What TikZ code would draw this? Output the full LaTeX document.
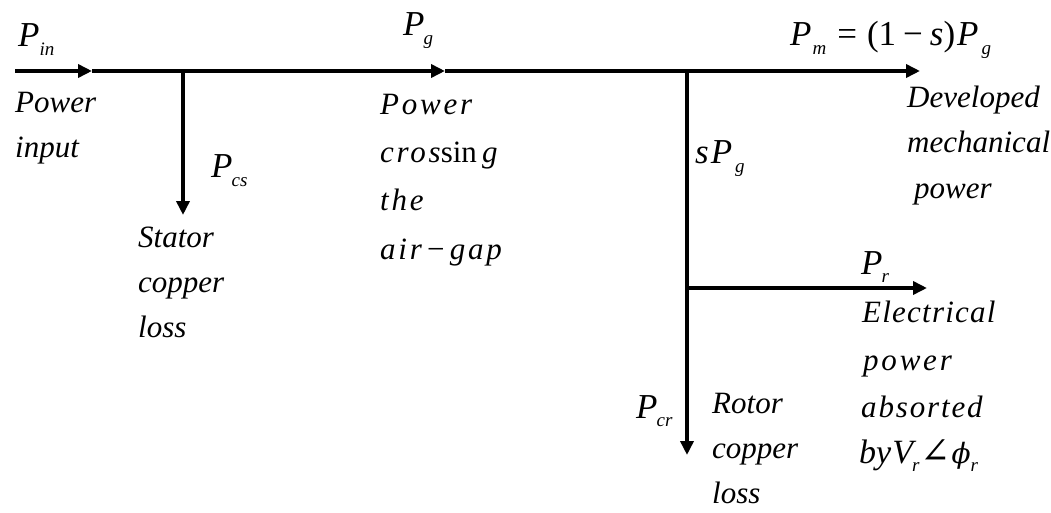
\documentclass[tikz,border=0pt]{standalone}
\usepackage{fontspec}
\setmainfont{Liberation Serif}
\newfontfamily\spc[LetterSpace=9]{Liberation Serif}
\newfontfamily\dvs{DejaVu Serif}
\usetikzlibrary{arrows.meta}
\newcommand\sbs[1]{\raisebox{-8.5pt}{\fontsize{19}{19}\selectfont\itshape #1}}
\newcommand\Pq[2][-1pt]{{\fontsize{35}{35}\selectfont P}\kern#1\sbs{#2}}
\tikzset{
  lbl/.style={anchor=base west,inner sep=0pt,font=\fontsize{31}{31}\selectfont\itshape},
  mlbl/.style={anchor=base west,inner sep=0pt,font=\fontsize{35}{35}\selectfont\itshape},
  slbl/.style={lbl,font=\fontsize{31}{31}\selectfont\spc\itshape},
  flow/.style={line width=3.5pt,-{Triangle[length=14pt,width=13pt]}}
}
\begin{document}
\begin{tikzpicture}[x=1pt,y=-1pt]
\useasboundingbox (0,0) rectangle (1051,513);
% coordinates
\coordinate (s0) at (15,71);
\coordinate (a1) at (92,71);
\coordinate (j1) at (183,71);
\coordinate (a2) at (445,71);
\coordinate (j2) at (687,71);
\coordinate (e0) at (920,71);
\coordinate (t1) at (183,215);
\coordinate (j3) at (687,288);
\coordinate (t3) at (927,288);
\coordinate (t2) at (687,455);
% connectors
\draw[flow] (s0) -- (a1);
\draw[flow] (a1) -- (a2);
\draw[flow] (a2) -- (e0);
\draw[flow] (j1) -- (t1);
\draw[flow] (j2) -- (t2);
\draw[flow] (j3) -- (t3);
% labels
\node[mlbl] (pin) at (18,47) {\Pq[0pt]{in}};
\node[lbl] (l1a) at (15,113) {Power};
\node[lbl] (l1b) at (15,158) {input};
\node[mlbl] (pcs) at (211,178) {\Pq{cs}};
\node[lbl] (l2a) at (138,247) {Stator};
\node[lbl] (l2b) at (138,292) {copper};
\node[lbl] (l2c) at (138,337) {loss};
\node[mlbl] (pg) at (403,36) {\Pq{g}};
\node[slbl] (l3a) at (380,115) {Power};
\node[slbl] (l3b) at (380,163) {cros{\rmfamily\upshape sin}\,g};
\node[slbl] (l3c) at (380,211) {the};
\node[slbl] (l3d) at (380,259) {air{\rmfamily\upshape\,−\,}gap};
\node[mlbl] (pm) at (790,46) {\Pq[1pt]{m}\kern11pt{\upshape=\kern10pt(1\kern7pt−\kern7pt}s{\upshape)}\kern2pt\Pq[3pt]{g}};
\node[mlbl] (spg) at (695,164) {s\kern2pt\Pq[3pt]{g}};
\node[lbl] (l4a) at (907,108) {Developed};
\node[lbl] (l4b) at (907,153) {mechanical};
\node[lbl] (l4c) at (914,198) {power};
\node[mlbl] (pr) at (861,274) {\Pq{r}};
\node[slbl] (l5a) at (862,322) {\addfontfeature{LetterSpace=4}Electrical};
\node[slbl] (l5b) at (863,370) {power};
\node[slbl] (l5c) at (861,417) {\addfontfeature{LetterSpace=6}absorted};
\node[lbl] (l5d) at (859,463) {\fontsize{34}{34}\selectfont by\kern1pt V\kern-1pt\sbs{r}\kern1pt{\dvs\upshape\fontsize{36}{36}\selectfont ∠}\kern1pt{\dvs\itshape\fontsize{28}{28}\selectfont ϕ}\sbs{r}};
\node[mlbl] (pcr) at (636,418) {\Pq{cr}};
\node[lbl] (l6a) at (712,413) {Rotor};
\node[lbl] (l6b) at (712,458) {copper};
\node[lbl] (l6c) at (712,503) {loss};
\end{tikzpicture}
\end{document}
